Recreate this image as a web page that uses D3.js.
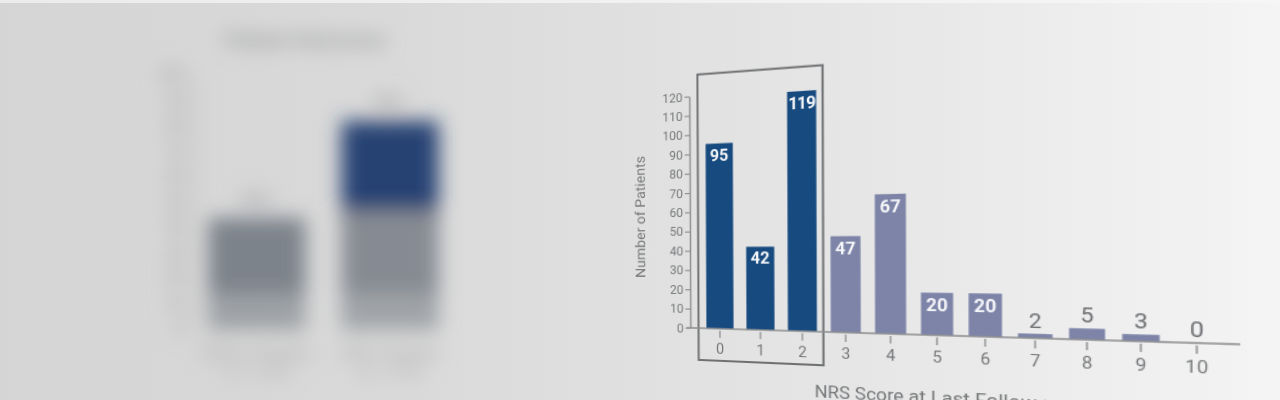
<!DOCTYPE html>
<html>
<head>
<meta charset="utf-8">
<script src="https://cdn.jsdelivr.net/npm/d3@7"></script>
<style>
html,body{margin:0;padding:0;width:1280px;height:400px;overflow:hidden;}
body{position:relative;background:linear-gradient(90deg,#d5d5d5 0%,#d9d9d9 30%,#e0e0e0 50%,#e7e7e7 70%,#efefef 88%,#f4f4f4 100%);font-family:Roboto,"Liberation Sans",Arial,sans-serif;}
#topstrip{position:absolute;left:0;top:0;width:1280px;height:3px;background:linear-gradient(90deg,#ececec,#f6f6f6);}
svg{position:absolute;left:0;top:0;overflow:visible;}
#main{transform-origin:0 0;filter:blur(0.35px);}
</style>
</head>
<body>
<div id="topstrip"></div>
<svg id="left" width="1280" height="400"></svg>
<svg id="main" width="1280" height="400"></svg>
<script>
// ---------- DATA ----------
const nrsScores = ["0","1","2","3","4","5","6","7","8","9","10"];
const patientCounts = [95,42,119,47,67,20,20,2,5,3,0];
const highlightedScores = ["0","1","2"];
const yTickValues = [0,10,20,30,40,50,60,70,80,90,100,110,120];
const chartTitle = "67% Happy";
const xAxisLabel = "NRS Score at Last Follow-up";
const yAxisLabel = "Number of Patients";

// blurred background chart (out of focus in the photo)
const leftTitle = "Patient Outcomes";
const leftGroups = ["Before Surgery","After Surgery"];
const leftLower = [14,14];
const leftMiddle = [30,33];
const leftUpper = [0,35];
const leftTotals = ["44%","82%"];
const leftTicks = [0,10,20,30,40,50,60,70,80,90,100];

// ---------- BLURRED LEFT CHART ----------
const ls = d3.select("#left");
const defs = ls.append("defs");
defs.append("filter").attr("id","dof").attr("x","-30%").attr("y","-30%").attr("width","160%").attr("height","160%")
  .append("feGaussianBlur").attr("stdDeviation",9.5);
const lg = ls.append("g").attr("filter","url(#dof)");
const lx = d3.scaleBand().domain(leftGroups).range([195,452]).paddingInner(0.27).paddingOuter(0.1);
const ly = d3.scaleLinear().domain([0,100]).range([330,75]);
lg.append("text").attr("x",305).attr("y",47).attr("text-anchor","middle")
  .attr("font-size",20).attr("font-weight",900).attr("fill","#a0a2a4").text(leftTitle);
lg.selectAll(".lt").data(leftTicks).join("text").attr("class","lt")
  .attr("x",184).attr("y",d=>ly(d)+5).attr("text-anchor","end")
  .attr("font-size",16).attr("font-weight",900).attr("fill","#a8a8a8").text(d=>d);
lg.append("line").attr("x1",193).attr("x2",193).attr("y1",ly(0)).attr("y2",ly(100)).attr("stroke","#bbbbbb").attr("stroke-width",3);
const segs = [
  {vals:leftLower, base:leftGroups.map(()=>0), colors:["#9ea2a6","#a0a4a8"]},
  {vals:leftMiddle, base:leftLower, colors:["#7d838b","#868b93"]},
  {vals:leftUpper, base:leftLower.map((d,i)=>d+leftMiddle[i]), colors:["#264373","#264373"]}
];
segs.forEach(s=>{
  lg.selectAll(null).data(leftGroups).join("rect")
    .attr("x",d=>lx(d)).attr("width",lx.bandwidth())
    .attr("y",(d,i)=>ly(s.base[i]+s.vals[i])).attr("height",(d,i)=>ly(s.base[i])-ly(s.base[i]+s.vals[i]))
    .attr("fill",(d,i)=>s.colors[i]);
});
lg.selectAll(".tot").data(leftGroups).join("text").attr("class","tot")
  .attr("x",d=>lx(d)+lx.bandwidth()/2)
  .attr("y",(d,i)=>ly(leftLower[i]+leftMiddle[i]+leftUpper[i])-12)
  .attr("text-anchor","middle").attr("font-size",18).attr("font-weight",900).attr("fill","#a0a2a4")
  .text((d,i)=>leftTotals[i]);
lg.selectAll(".cat").data(leftGroups).join("text").attr("class","cat")
  .attr("x",d=>lx(d)+lx.bandwidth()/2).attr("y",358)
  .attr("text-anchor","middle").attr("font-size",16).attr("font-weight",900).attr("fill","#b2b2b2")
  .text(d=>d);
lg.selectAll(".cat2").data(leftGroups).join("text").attr("class","cat2")
  .attr("x",d=>lx(d)+lx.bandwidth()/2).attr("y",378)
  .attr("text-anchor","middle").attr("font-size",16).attr("font-weight",900).attr("fill","#b6b6b6")
  .text("(n = 373)");

// ---------- MAIN CHART (flat plane, then photographed perspective) ----------
const svg = d3.select("#main");
const x = d3.scaleBand().domain(nrsScores).range([700,1140]).paddingInner(0.32).paddingOuter(0.16);
const y = d3.scaleLinear().domain([0,120]).range([328,95]);
const cx = s => x(s) + x.bandwidth()/2;
const axisX = 690;
const darkBlue = "#174a7f", lavender = "#7d84a8";
const g = svg.append("g");

// highlight box around scores 0-2
g.append("rect")
  .attr("x", x("0") - 8).attr("y", y(131))
  .attr("width", (x("2") + x.bandwidth() + 6) - (x("0") - 8))
  .attr("height", (y(0) + 32) - y(131))
  .attr("fill","none").attr("stroke","#6e7072").attr("stroke-width",2);

// bars
g.selectAll(".bar").data(nrsScores).join("rect").attr("class","bar")
  .attr("x", d=>x(d)).attr("width", x.bandwidth())
  .attr("y", (d,i)=>y(patientCounts[i])).attr("height",(d,i)=>y(0)-y(patientCounts[i]))
  .attr("fill", d=>highlightedScores.includes(d)?darkBlue:lavender);

// value labels
g.selectAll(".val").data(nrsScores).join("text").attr("class","val")
  .attr("x", d=>cx(d))
  .attr("y", (d,i)=>patientCounts[i]>=15 ? y(patientCounts[i])+17 : y(patientCounts[i])-5)
  .attr("text-anchor","middle")
  .attr("font-size",(d,i)=>patientCounts[i]>=15?16:18)
  .attr("font-weight",(d,i)=>patientCounts[i]>=15?700:400)
  .attr("letter-spacing",(d,i)=>patientCounts[i]>=100?-0.8:0)
  .attr("fill",(d,i)=>patientCounts[i]>=15?"#f4f5f8":"#6d6f72")
  .text((d,i)=>patientCounts[i]);

// y axis
const yAxis = g.append("g").attr("transform",`translate(${axisX},0)`)
  .call(d3.axisLeft(y).tickValues(yTickValues).tickSize(5).tickSizeOuter(0).tickPadding(2));
yAxis.select(".domain").attr("stroke","#8c8e90").attr("stroke-width",1.5);
yAxis.selectAll(".tick line").attr("stroke","#8c8e90").attr("stroke-width",1.2);
yAxis.selectAll(".tick text").attr("fill","#76787a").attr("font-size",12.5).attr("font-family","Roboto");

// x axis
const xAxis = g.append("g").attr("transform",`translate(0,${y(0)})`)
  .call(d3.axisBottom(x).tickSize(9).tickSizeOuter(0).tickPadding(6));
xAxis.select(".domain").remove();
xAxis.selectAll(".tick line").attr("y1",2).attr("stroke","#8c8e90").attr("stroke-width",1.3);
xAxis.selectAll(".tick text").attr("fill","#76787a").attr("font-size",14.5).attr("font-family","Roboto");
g.append("line").attr("x1",axisX-4).attr("x2",x.range()[1]+10).attr("y1",y(0)).attr("y2",y(0))
  .attr("stroke","#8c8e90").attr("stroke-width",1.5);

// axis titles
g.append("text").attr("transform",`translate(643,${(y(0)+y(120))/2+4}) rotate(-90)`)
  .attr("text-anchor","middle").attr("font-size",14.5).attr("fill","#76787a").text(yAxisLabel);
g.append("text").attr("x",(x.range()[0]+x.range()[1])/2-2).attr("y",391)
  .attr("text-anchor","middle").attr("font-size",17).attr("fill","#76787a").text(xAxisLabel);
g.append("text").attr("x",816).attr("y",7)
  .attr("text-anchor","middle").attr("font-size",18).attr("fill","#8a8c8e").text(chartTitle);

// ---------- perspective of the photograph: fit homography flat -> photo ----------
const calib = [
  [[axisX, y(0)],[690,328]],
  [[axisX, y(120)],[691,95]],
  [[cx("0"), y(0)],[720,328.8]],
  [[cx("1"), y(0)],[758,329.8]],
  [[cx("2"), y(0)],[801,331]],
  [[cx("3"), y(0)],[845,332.2]],
  [[cx("4"), y(0)],[891,333.4]],
  [[cx("5"), y(0)],[938,334.7]],
  [[cx("6"), y(0)],[986,336]],
  [[cx("7"), y(0)],[1036,337.3]],
  [[cx("8"), y(0)],[1088,338.8]],
  [[cx("9"), y(0)],[1141,340.5]],
  [[cx("10"), y(0)],[1197,342]],
  [[cx("0"), y(95)],[719.5,143]],
  [[cx("1"), y(42)],[758.5,247.7]],
  [[cx("2"), y(119)],[804,91]],
  [[cx("3"), y(47)],[844,237.7]],
  [[cx("4"), y(67)],[889.5,196]],
  [[cx("5"), y(20)],[936.5,295]],
  [[cx("6"), y(20)],[984.5,295.7]],
  [[x("0")-8, y(131)],[698,73]],
  [[x("2")+x.bandwidth()+6, y(131)],[820,66]],
  [[x("0")-8, y(0)+32],[701,360]],
  [[x("2")+x.bandwidth()+6, y(0)+32],[825,365]]
];
function fitH(pairs){
  const C=[900,250], S=200;
  const n = p => [(p[0]-C[0])/S,(p[1]-C[1])/S];
  const N = Array.from({length:8},()=>new Array(8).fill(0));
  const r = new Array(8).fill(0);
  const add = (row,b)=>{ for(let i=0;i<8;i++){ r[i]+=row[i]*b; for(let j=0;j<8;j++) N[i][j]+=row[i]*row[j]; } };
  pairs.forEach(([s,d])=>{
    const [X,Y]=n(s), [U,V]=n(d);
    add([X,Y,1,0,0,0,-X*U,-Y*U],U);
    add([0,0,0,X,Y,1,-X*V,-Y*V],V);
  });
  const A = N.map((row,i)=>row.concat([r[i]]));
  for(let c=0;c<8;c++){
    let p=c; for(let k=c+1;k<8;k++) if(Math.abs(A[k][c])>Math.abs(A[p][c])) p=k;
    [A[c],A[p]]=[A[p],A[c]];
    for(let k=0;k<8;k++){ if(k===c) continue; const f=A[k][c]/A[c][c]; for(let j=c;j<9;j++) A[k][j]-=f*A[c][j]; }
  }
  const h = A.map((row,i)=>row[8]/row[i]);
  const Hn = [[h[0],h[1],h[2]],[h[3],h[4],h[5]],[h[6],h[7],1]];
  const Ts = [[1/S,0,-C[0]/S],[0,1/S,-C[1]/S],[0,0,1]];
  const Td = [[S,0,C[0]],[0,S,C[1]],[0,0,1]];
  const mul=(P,Q)=>P.map((row,i)=>Q[0].map((_,j)=>row.reduce((acc,_,k)=>acc+P[i][k]*Q[k][j],0)));
  return mul(Td,mul(Hn,Ts));
}
const H = fitH(calib);
d3.select("#main").style("transform",
  `matrix3d(${H[0][0]},${H[1][0]},0,${H[2][0]},${H[0][1]},${H[1][1]},0,${H[2][1]},0,0,1,0,${H[0][2]},${H[1][2]},0,${H[2][2]})`);
</script>
</body>
</html>
